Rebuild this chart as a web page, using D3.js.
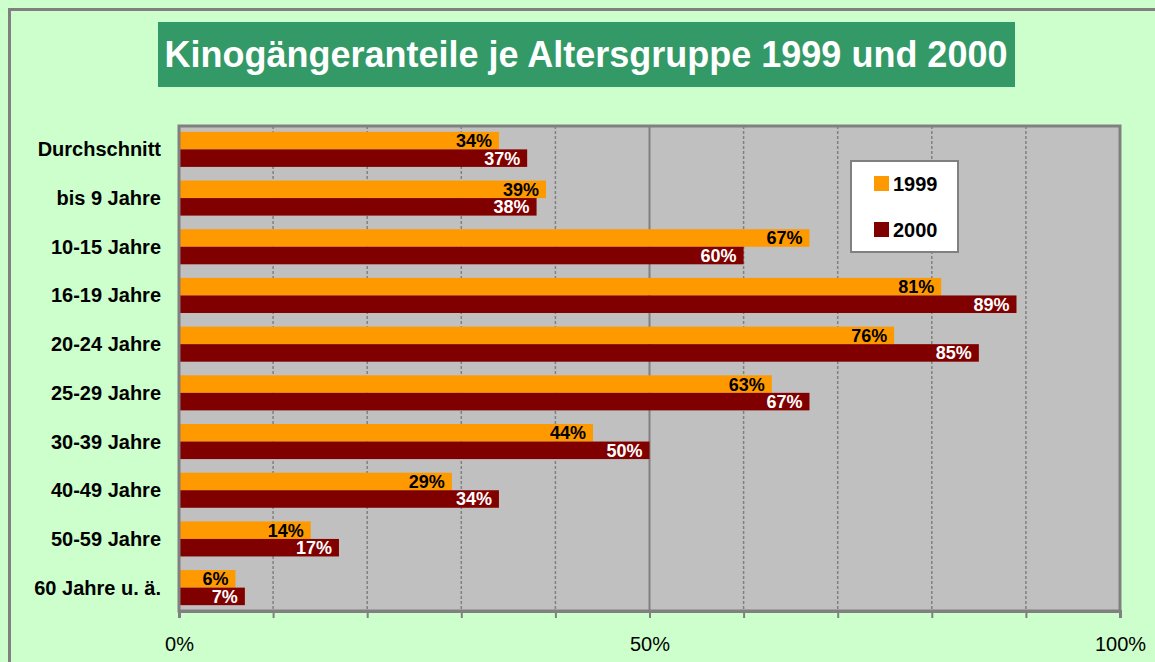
<!DOCTYPE html>
<html>
<head>
<meta charset="utf-8">
<script src="https://cdn.jsdelivr.net/npm/d3@7"></script>
<style>
  body { margin: 0; background: #ccffcc; }
  svg { display: block; font-family: "Liberation Sans", Arial, sans-serif; }
</style>
</head>
<body>
<div id="main_div"></div>
<script>
const categories = ["Durchschnitt", "bis 9 Jahre", "10-15 Jahre", "16-19 Jahre", "20-24 Jahre",
    "25-29 Jahre", "30-39 Jahre", "40-49 Jahre", "50-59 Jahre", "60 Jahre u. ä."];
const seriesNames = ["1999", "2000"];
const values1999 = [34, 39, 67, 81, 76, 63, 44, 29, 14, 6];
const values2000 = [37, 38, 60, 89, 85, 67, 50, 34, 17, 7];
const tickValues = [0, 10, 20, 30, 40, 50, 60, 70, 80, 90, 100];
const tickLabels = { 0: "0%", 50: "50%", 100: "100%" };
const title = "Kinogängeranteile je Altersgruppe 1999 und 2000";

function draw() {
    const W = 1155, H = 662;
    const colors = { "1999": "#ff9900", "2000": "#800000" };
    const labelColors = { "1999": "#000000", "2000": "#ffffff" };

    const svg = d3.select("#main_div")
        .append("svg")
        .attr("width", W)
        .attr("height", H);

    // background + outer frame
    svg.append("rect")
        .attr("x", 0).attr("y", 0).attr("width", W).attr("height", H)
        .attr("fill", "#ccffcc");
    svg.append("rect")
        .attr("x", 9.5).attr("y", 9.5).attr("width", W + 20).attr("height", H + 20)
        .attr("fill", "none")
        .attr("stroke", "#808080")
        .attr("stroke-width", 3);

    // title box
    svg.append("rect")
        .attr("x", 158).attr("y", 22).attr("width", 857).attr("height", 65)
        .attr("fill", "#339966");
    svg.append("text")
        .attr("x", 586).attr("y", 67)
        .attr("text-anchor", "middle")
        .attr("fill", "#ffffff")
        .attr("font-weight", "bold")
        .attr("font-size", "36px")
        .text(title);

    const left = 179, right = 1120, top = 126, bottom = 611;

    const xScale = d3.scaleLinear()
        .domain([0, 100])
        .range([left, right]);

    const yScale = d3.scaleBand()
        .domain(categories)
        .range([top, bottom])
        .paddingInner(0.28)
        .paddingOuter(0.12);

    const ySub = d3.scaleBand()
        .domain(seriesNames)
        .range([0, yScale.bandwidth()]);

    // plot area
    svg.append("rect")
        .attr("x", left).attr("y", top)
        .attr("width", right - left).attr("height", bottom - top)
        .attr("fill", "#c0c0c0");

    // gridlines
    svg.append("g")
        .selectAll("line")
        .data(tickValues.filter(t => t > 0 && t < 100))
        .join("line")
        .attr("x1", d => xScale(d)).attr("x2", d => xScale(d))
        .attr("y1", top).attr("y2", bottom)
        .attr("stroke", "#808080")
        .attr("stroke-width", d => d === 50 ? 2 : 1.5)
        .attr("stroke-dasharray", d => d === 50 ? null : "3,2");

    // bars
    const rows = categories.map((c, i) => ({
        cat: c,
        vals: [{ s: "1999", v: values1999[i] }, { s: "2000", v: values2000[i] }]
    }));

    const groups = svg.append("g")
        .selectAll("g")
        .data(rows)
        .join("g")
        .attr("transform", d => `translate(0,${yScale(d.cat)})`);

    groups.selectAll("rect")
        .data(d => d.vals)
        .join("rect")
        .attr("x", xScale(0))
        .attr("y", d => ySub(d.s))
        .attr("width", d => xScale(d.v) - xScale(0))
        .attr("height", ySub.bandwidth())
        .attr("fill", d => colors[d.s]);

    groups.selectAll("text")
        .data(d => d.vals)
        .join("text")
        .attr("x", d => xScale(d.v) - 7)
        .attr("y", d => ySub(d.s) + ySub.bandwidth() / 2 + 6.5)
        .attr("text-anchor", "end")
        .attr("font-weight", "bold")
        .attr("font-size", "18px")
        .attr("fill", d => labelColors[d.s])
        .text(d => d.v + "%");

    // plot border
    svg.append("rect")
        .attr("x", left).attr("y", top)
        .attr("width", right - left).attr("height", bottom - top)
        .attr("fill", "none")
        .attr("stroke", "#808080")
        .attr("stroke-width", 3);

    // category labels
    svg.append("g")
        .selectAll("text")
        .data(categories)
        .join("text")
        .attr("x", 161)
        .attr("y", d => yScale(d) + yScale.bandwidth() / 2 + 7)
        .attr("text-anchor", "end")
        .attr("font-weight", "bold")
        .attr("font-size", "20px")
        .attr("fill", "#000")
        .text(d => d);

    // x axis
    const xAxis = d3.axisBottom(xScale)
        .tickValues(tickValues)
        .tickSize(7)
        .tickFormat(d => tickLabels[d] || "");

    const ax = svg.append("g")
        .attr("transform", `translate(0,${bottom})`)
        .call(xAxis);
    ax.select(".domain").attr("stroke", "#808080").attr("stroke-width", 3);
    ax.selectAll(".tick line").attr("stroke", "#808080").attr("stroke-width", 2);
    ax.selectAll(".tick text")
        .attr("y", 26)
        .attr("dy", "0.71em")
        .attr("font-size", "20px")
        .attr("font-family", "Liberation Sans, Arial, sans-serif")
        .attr("fill", "#000");

    // legend
    const lg = svg.append("g");
    lg.append("rect")
        .attr("x", 851).attr("y", 161).attr("width", 107).attr("height", 91)
        .attr("fill", "#ffffff")
        .attr("stroke", "#808080")
        .attr("stroke-width", 2);
    const items = lg.selectAll("g")
        .data(seriesNames)
        .join("g")
        .attr("transform", (d, i) => `translate(874,${176 + i * 46})`);
    items.append("rect")
        .attr("width", 15).attr("height", 15)
        .attr("fill", d => colors[d]);
    items.append("text")
        .attr("x", 19).attr("y", 15)
        .attr("font-weight", "bold")
        .attr("font-size", "20px")
        .attr("fill", "#000")
        .text(d => d);
}

draw();
</script>
</body>
</html>
